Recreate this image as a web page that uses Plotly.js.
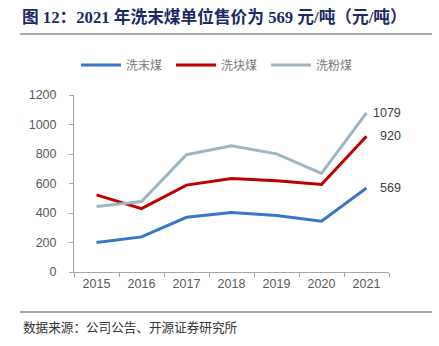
<!DOCTYPE html>
<html>
<head>
<meta charset="utf-8">
<script src="https://cdn.plot.ly/plotly-3.0.1.min.js"></script>
<style>html,body{margin:0;padding:0;background:#fff;}#chart{width:439px;height:346px;}</style>
</head>
<body>
<div id="chart"></div>
<script>
const years = ['2015','2016','2017','2018','2019','2020','2021'];
const seriesNames = ['洗末煤','洗块煤','洗粉煤'];
const fineCoal = [200, 238, 371, 403, 383, 344, 569];
const lumpCoal = [523, 430, 589, 634, 618, 593, 920];
const powderCoal = [444, 478, 795, 856, 801, 668, 1079];
const titleText = '图 12：2021 年洗末煤单位售价为 569 元/吨（元/吨）';
const sourceText = '数据来源：公司公告、开源证券研究所';

const colors = ['#3776C8', '#C00000', '#A0B6C4'];
const allSeries = [fineCoal, lumpCoal, powderCoal];

const traces = allSeries.map((vals, i) => ({
  x: years, y: vals, name: seriesNames[i], type: 'scatter', mode: 'lines',
  line: {color: colors[i], width: 3}, hoverinfo: 'skip'
}));

const W = 439, H = 346, L = 74, R = 50, T = 95, B = 74;
const pw = W - L - R, ph = H - T - B;
const px = x => (x - L) / pw;
const py = y => (H - B - y) / ph;

const lastIdx = years.length - 1;
const labelAnns = allSeries.map(vals => ({
  x: lastIdx, y: vals[lastIdx], xref: 'x', yref: 'y',
  text: String(vals[lastIdx]), showarrow: false, xanchor: 'right', yanchor: 'middle', xshift: 36,
  font: {family: 'Liberation Sans, Arial, sans-serif', size: 12.5, color: '#404040'}
}));

const layout = {
  width: W, height: H,
  margin: {l: L, r: R, t: T, b: B, pad: 0},
  paper_bgcolor: '#fff', plot_bgcolor: '#fff',
  showlegend: true,
  title: {
    text: '<b>' + titleText + '</b>',
    x: 22 / W, xanchor: 'left', xref: 'container',
    y: 1 - 17 / H, yanchor: 'middle', yref: 'container',
    font: {family: 'Liberation Serif, Noto Sans CJK SC, serif', size: 16.7, color: '#1C2A66'}
  },
  legend: {
    orientation: 'h', x: px(76), xanchor: 'left', y: py(65), yanchor: 'middle',
    font: {family: 'Noto Sans CJK SC, sans-serif', size: 12, color: '#7A7A7A'},
    itemwidth: 40, entrywidth: 40, tracegroupgap: 0, bgcolor: 'rgba(0,0,0,0)'
  },
  xaxis: {
    type: 'category', range: [-0.5, 6.5], tickson: 'boundaries',
    showline: true, linecolor: '#A6A6A6', linewidth: 1,
    ticks: 'outside', ticklen: 4, tickcolor: '#A6A6A6',
    showgrid: false, zeroline: false, fixedrange: true,
    tickfont: {family: 'Liberation Sans, Arial, sans-serif', size: 12.5, color: '#595959'}
  },
  yaxis: {
    range: [0, 1200], dtick: 200, tick0: 0,
    showline: true, linecolor: '#A6A6A6', linewidth: 1,
    ticks: 'outside', ticklen: 4, tickcolor: '#A6A6A6',
    showgrid: false, zeroline: false, fixedrange: true, ticklabelstandoff: 10,
    tickfont: {family: 'Liberation Sans, Arial, sans-serif', size: 12.5, color: '#595959'}
  },
  shapes: [
    {type: 'line', xref: 'paper', yref: 'paper', x0: px(20), x1: px(432), y0: py(34), y1: py(34), line: {color: '#8C8C8C', width: 1.5}},
    {type: 'line', xref: 'paper', yref: 'paper', x0: px(20), x1: px(432), y0: py(312), y1: py(312), line: {color: '#8C8C8C', width: 1.5}}
  ],
  annotations: labelAnns.concat([{
    xref: 'paper', yref: 'paper', x: px(21), y: py(326), xanchor: 'left', yanchor: 'middle',
    text: sourceText, showarrow: false,
    font: {family: 'Noto Sans CJK SC, sans-serif', size: 12.6, color: '#333333'}
  }])
};

Plotly.newPlot('chart', traces, layout, {displayModeBar: false, staticPlot: true});
</script>
</body>
</html>
